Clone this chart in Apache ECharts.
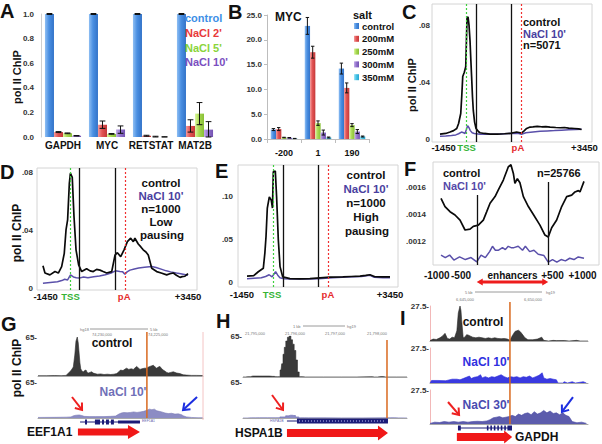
<!DOCTYPE html>
<html><head><meta charset="utf-8">
<script src="https://cdn.jsdelivr.net/npm/echarts@6/dist/echarts.min.js"></script>
<style>html,body{margin:0;padding:0;background:#fff;}#chart{width:602px;height:444px;}</style>
</head><body><div id="chart"></div>
<script>
// ================= DATA =================
// Panel A
const aCategories = ['GAPDH', 'MYC', 'RETSTAT', 'MAT2B'];
const aNames = ['control', "NaCl 2'", "NaCl 5'", "NaCl 10'"];
const aControl = [1.0, 1.0, 1.0, 1.0];
const aNaCl2 = [0.04, 0.10, 0.01, 0.09];
const aNaCl5 = [0.03, 0.025, 0.0, 0.19];
const aNaCl10 = [0.01, 0.06, 0.0, 0.06];
const aControlErr = [0.004, 0.004, 0.004, 0.004];
const aNaCl2Err = [0.004, 0.03, 0.004, 0.05];
const aNaCl5Err = [0.003, 0.003, 0.006, 0.09];
const aNaCl10Err = [0.002, 0.03, 0.002, 0.065];

// Panel B
const bCategories = ['-200', '1', '190'];
const bNames = ['control', '200mM', '250mM', '300mM', '350mM'];
const bControl = [1.9, 22.8, 14.2];
const b200 = [2.0, 17.5, 10.3];
const b250 = [0.3, 3.2, 2.8];
const b300 = [0.25, 1.3, 1.5];
const b350 = [0.1, 0.3, 0.5];
const bControlErr = [0.2, 1.7, 1.1];
const b200Err = [0.3, 1.2, 1.0];
const b250Err = [0.05, 0.45, 0.3];
const b300Err = [0.05, 0.5, 0.4];
const b350Err = [0.02, 0.1, 0.1];

// Metagene panels (x in metagene bins 0..100)
const metaTickLabels = ['-1450', 'TSS', 'pA', '+3450'];
const cTickValues = [2.5, 18.6, 54.5, 101];
const dTickValues = [1.8, 19, 56, 100];
const eTickValues = [-3.5, 17.5, 56.6, 100];
const metaTSS = 18.5, metaGeneBounds = [25, 50], metaPA = 56.5;

const cControl = [[0,.0035],[4,.004],[7,.005],[9.5,.006],[11.7,.0075],[13,.011],[14.5,.018],[15.2,.03],[15.9,.044],[17,.047],[18,.051],[18.5,.07],[18.9,.085],[19.6,.086],[20.3,.08],[21,.069],[21.6,.055],[22.1,.044],[22.7,.03],[23.3,.020],[24.2,.012],[25.2,.0075],[27,.0052],[28,.0045],[31,.004],[35,.0035],[40,.0036],[45,.0038],[49,.004],[51,.0045],[53.6,.005],[56,.0045],[57,.0042],[59,.006],[60.6,.0075],[63,.0085],[65,.0086],[68,.009],[71,.0087],[74,.0088],[77,.0085],[81,.0082],[84,.008],[87,.0082],[90,.0078],[94,.0075],[97,.0072],[99,.0068]];
const cNaCl = [[0,.002],[4,.0022],[8,.0026],[11,.003],[13,.0038],[15,.005],[16.5,.0045],[17.5,.004],[18.5,.007],[19.3,.0095],[20.3,.008],[21.2,.006],[22.5,.0045],[24,.004],[28,.0035],[35,.0035],[42,.0036],[48,.004],[52,.0042],[55,.004],[57,.0035],[60,.0045],[65,.005],[70,.0055],[75,.0058],[80,.006],[85,.0063],[90,.0066],[95,.0068],[99,.007]];

const dControl = [[0,.016],[1.4,.011],[4.8,.0097],[8.3,.012],[10.6,.011],[12.9,.0154],[14.7,.0246],[15.9,.0407],[17,.0476],[18.2,.0729],[18.9,.0798],[20.2,.077],[21.4,.05],[22.8,.027],[24.6,.0166],[26.7,.012],[30.1,.014],[32.5,.0125],[34.7,.012],[37,.0135],[39.3,.013],[41.5,.012],[43.9,.011],[47.4,.012],[49.7,.0234],[51.3,.025],[53.6,.0223],[55.9,.027],[58.2,.0326],[60.5,.035],[62.3,.0326],[63.4,.035],[65.7,.031],[67.5,.029],[69.1,.027],[71,.0255],[72.6,.0234],[75,.0143],[78.4,.012],[81.5,.011],[85.3,.0097],[87.5,.0105],[89.9,.011],[92,.0095],[94.5,.008],[96,.0085],[97.9,.0088],[100,.0106]];
const dNaCl = [[0,.004],[5,.0045],[10,.005],[13,.0058],[15,.0067],[17,.0062],[19,.0097],[21,.0083],[23,.0078],[25,.0075],[28,.0083],[31,.0078],[35,.0085],[39,.009],[43,.0098],[47,.011],[50,.0125],[53,.012],[55,.0118],[56.5,.0102],[58,.0118],[60,.013],[63,.0138],[66,.0145],[70,.015],[75,.0155],[78,.0148],[82,.0135],[85,.0125],[88,.0118],[92,.011],[95,.0105],[100,.0095]];

const eControl = [[0,.008],[4.7,.0085],[7.9,.013],[11.4,.017],[12.5,.035],[13.3,.054],[14.2,.087],[15.6,.1],[17,.096],[17.8,.087],[18.4,.129],[19.8,.13],[20.7,.1],[21.3,.075],[21.9,.05],[23.1,.019],[25,.007],[30,.005],[37,.0048],[44,.005],[51,.006],[58,.0068],[67,.007],[73,.0075],[79,.008],[83,.0088],[86,.0095],[89.5,.0072],[94,.007],[100,.007]];
const eNaCl = [[0,.005],[5,.0055],[10,.006],[13,.0075],[15.5,.0095],[17.5,.007],[20,.013],[21.5,.009],[23,.006],[26,.005],[30,.0045],[40,.0045],[50,.005],[60,.006],[70,.0068],[80,.0075],[86,.009],[89,.0065],[95,.006],[100,.006]];

// Panel F (enhancers, bins 0..100, enhancer spans 25..75)
const fTickValues = [-3, 14, 50, 78, 99];
const fTickLabels = ['-1000', '-500', 'enhancers', '+500', '+1000'];
const fEnhancer = [25, 75];
const fEnhancerLineTops = [0.001547, 0.001645];
const fControl = [[0,.001522],[2.8,.001459],[6.3,.001421],[9.8,.001396],[13.3,.001358],[16.8,.001283],[20.3,.00129],[22.6,.00131],[26.1,.00132],[29.6,.001358],[31.9,.00142],[34.3,.001485],[37.8,.001535],[40.1,.001585],[43.6,.00166],[47.1,.00176],[48.9,.001775],[50.6,.00171],[51.7,.001635],[53.4,.00167],[55.2,.00164],[57.6,.001535],[61.1,.00146],[64.6,.0014],[69.2,.00132],[72.7,.001245],[75,.00123],[77.4,.0013],[80.9,.001358],[84.4,.00146],[87.9,.001535],[91.4,.001546],[93.7,.00157],[96.1,.00158],[97.2,.00157],[100,.00165]];
const fNaCl = [[0,.001094],[3,.001075],[6,.001094],[9,.001056],[13,.00108],[17,.00106],[21,.001075],[25,.001043],[28,.001094],[31,.001075],[34,.00112],[36,.00116],[38,.00113],[40,.00113],[43,.00115],[45,.001135],[47,.00116],[49,.00115],[51,.00115],[54,.00116],[57,.00113],[59,.00116],[62,.00112],[65,.00113],[68,.0011],[72,.00109],[75,.00104],[78,.00106],[81,.00104],[84,.00106],[87,.00105],[90,.00107],[93,.00106],[96,.00108],[100,.00107]];

// Genome browser tracks (x in track bins 0..100)
const gControl = [[0,0.5],[5,0.5],[10,0.8],[14,0.6],[17,1],[18.5,5],[20,9],[21.4,15],[22.3,35],[23,58],[23.8,65],[24.4,55],[24.8,42],[25.4,22],[25.9,12],[26.7,8],[27.5,7],[28.3,9],[29.1,10],[29.8,6],[30.5,5],[31.5,6],[32.5,7],[33.5,5],[34.5,4],[36,3],[38,3.5],[40,2.5],[42,3],[44,2.5],[46,3],[47.7,4],[49,7],[50,10],[51.5,9],[53,12],[53.7,13],[55,11],[56.5,12],[57.8,11],[59,14],[59.8,16],[61,13],[61.8,11],[63,12],[64.5,13],[65.9,13],[67,15],[67.9,16],[69,17],[69.9,18],[71,15],[71.9,13],[73,15],[73.9,16],[75,12],[75.9,10],[77,8],[78,6],[79,5],[80.5,6],[82,7],[84,5],[86,4],[88,2],[90,1.5],[93,1],[96,1],[100,0.8]];
const gNaCl10 = [[0,1],[10,1.2],[17,1.5],[20,2],[21.5,4],[23,5],[25,5.5],[26.5,4.5],[28,3],[31,2.5],[35,2.5],[40,2.5],[44,3],[47,3.5],[49,7],[50.5,9],[52,10],[54,9.5],[56,10],[58,11],[60,10],[62,11],[64,12],[66,14],[67.5,16],[69,15],[70.5,16],[72,13],[73.5,12],[75,11],[77,9],[79,8],[81,8.5],[83,7],[85,7.5],[87,6],[88,4],[90,2],[93,1],[97,0.5],[100,0.5]];
const gGeneIntron = [[25.5, 61.8]];
const gGeneExons = [[28.5,29.7,1],[34.5,37.6,1],[38.8,40,1],[41.2,43,1],[44.2,46,1],[48.5,61.8,0.6]];
const gGeneArrow = [[24.2, 61.8]];
const gMarker = 66;
const gArrowsRed = [[20.6, 37.9, 26.7, 14.4]];
const gArrowsBlue = [[96.4, 37.9, 87.9, 14.4]];

const hControl = [[0,0],[3,0.5],[6,1.5],[10,1.5],[14,1.5],[18,1],[20,0.5],[22,0.5],[23.2,11],[24,21],[24.8,36],[25.6,47],[26.6,57],[27.6,63],[28.7,65],[29.7,59],[30.7,52],[31.7,42],[32.7,27],[33.7,8],[34.8,0.5],[38,0],[60,0],[78,0.5],[80,0],[84,0.6],[87,0],[100,0]];
const hNaCl10 = [[0,0],[5,0.3],[10,0.5],[20,0.5],[25,2],[27,4],[29,5],[31,4.5],[33,2],[35,0.5],[40,0.3],[60,0.2],[85,0.3],[90,0.5],[95,0.2],[100,0]];
const hGeneIntron = [[26.8, 32.9]];
const hGeneExons = [[32.9, 88.4, 1]];
const hGeneArrow = [[26.8, 88.4]];
const hMarker = 87.8;
const hArrowsRed = [[17.7, 41.5, 24.4, 14.4]];

const iControl = [[0,0.3],[2,1.5],[4,1.2],[6.3,2.5],[8,4],[9.5,6],[11,2],[12.5,1.5],[14,3],[15.5,2.5],[17,8],[17.9,22],[19,27.5],[19.6,24],[20,17],[21,2.5],[22,3],[23.2,5],[24.5,4.5],[25.3,4],[27,3],[29,2.5],[31,3],[33,2.5],[35,2],[37,2.5],[39,2],[41,2.5],[43,2],[45,1.8],[47,2],[49,1.5],[50.6,0.5],[52,4],[53.8,7.5],[55.9,8.5],[57,7.5],[58,6],[60.1,2.5],[62,1],[65,1],[68,1.5],[70.7,3],[72,0.5],[75,0],[78,0.5],[80,0.3],[85,0.4],[88,0],[92.8,0.5],[95,0],[100,0]];
const iNaCl10 = [[0,0],[1,2],[5,2],[10,1.8],[14,3],[17,3],[19,2.5],[21,3.5],[23,4.5],[25,5.5],[26,3.5],[28,4.5],[30,5],[32,6.5],[33,4],[35,5],[37,4],[39,5],[41,4.5],[43,5.5],[45,6.5],[47,5],[49,4],[51,5],[53,4.5],[55,5],[57,4],[59,5],[61,4.5],[63,5.5],[65,4],[67,5],[69,6],[71,8],[72,4],[74,3],[76,3.5],[78,3],[80,2.5],[81,0],[84,0],[85,1],[87,0],[90,1],[92,0],[97,1],[99,0]];
const iNaCl30 = [[0,0.5],[3,1.5],[6,1.2],[9,2],[12,1.5],[15,2],[18,1.5],[21,2],[24,1.5],[27,2],[30,2.2],[33,2],[36,2.5],[38,3.5],[40,5],[42,5.5],[44,6],[46,5],[48,5.5],[50,6],[52,7],[54,6],[56,8],[58,7],[60,8.5],[62,9],[64,7.5],[66,10],[68,8],[70,9],[72,11],[74,9],[76,10.5],[78,8.5],[80,9],[82,7.5],[84,9],[86,7],[88,6],[89,4],[90,2],[93,1],[96,1.5],[99,0.5]];
const iGeneIntron = [[17.7, 51.9]];
const iGeneExons = [[17.7,19.5,1],[36,37,1],[38.2,39.2,1],[40.4,41.4,1],[42.6,43.6,1],[44.8,45.8,1],[47,48,1],[49,51.9,1]];
const iGeneArrow = [[17, 52]];
const iMarker = 50.6;
const iArrowsRed = [[11.4, 17.8, 18.4, 7.3]];
const iArrowsBlue = [[90.5, 21.8, 83.5, 9.7]];

// ================= BUILD =================
const FONT = '"Liberation Sans", Arial, sans-serif';
const grids = [], xAxes = [], yAxes = [], series = [];
function addGrid(g, xa, ya) {
  const i = grids.length;
  grids.push(Object.assign({ containLabel: false }, g));
  xAxes.push(Object.assign({ gridIndex: i }, xa));
  yAxes.push(Object.assign({ gridIndex: i }, ya));
  return i;
}
function grad(c) {
  return { type: 'linear', x: 0, y: 0, x2: 1, y2: 0, colorStops: [{ offset: 0, color: c[0] }, { offset: 0.45, color: c[1] }, { offset: 1, color: c[2] }] };
}
const BLUE = ['#8fbff3', '#4a8fe2', '#3373c8'];
const RED = ['#f59a9a', '#e25454', '#c53838'];
const GREEN = ['#dcf7a0', '#a8d852', '#88c036'];
const PURPLE = ['#c4ace9', '#9272cc', '#7352b2'];
const CYAN = ['#a0e6f7', '#46c4e8', '#27a5cf'];

function errorBars(gi, vals, errs, idx, n, gapFrac) {
  return {
    type: 'custom', xAxisIndex: gi, yAxisIndex: gi, silent: true, z: 5,
    data: vals.map((v, k) => [k, v, errs[k]]),
    renderItem(params, api) {
      const k = api.value(0), v = api.value(1), e = api.value(2);
      const band = api.size([1, 0])[0];
      const group = band * (1 - gapFrac), bw = group / n;
      const cx = api.coord([k, v])[0] - group / 2 + bw * (idx + 0.5);
      const yT = api.coord([k, v + e])[1], yB = api.coord([k, Math.max(0, v - e)])[1];
      const cap = bw * 0.32;
      const st = { stroke: '#111', lineWidth: 1 };
      return { type: 'group', children: [
        { type: 'line', shape: { x1: cx, y1: yT, x2: cx, y2: yB }, style: st },
        { type: 'line', shape: { x1: cx - cap, y1: yT, x2: cx + cap, y2: yT }, style: st },
        { type: 'line', shape: { x1: cx - cap, y1: yB, x2: cx + cap, y2: yB }, style: st }
      ] };
    }
  };
}

// ---- Panel A
const gapA = 0.18;
const gA = addGrid({ left: 41, top: 14, width: 176, height: 123 },
  { type: 'category', data: aCategories, axisLine: { show: false }, axisTick: { show: false },
    axisLabel: { interval: 0, fontSize: 10, fontWeight: 'bold', color: '#111', margin: 3, fontFamily: FONT } },
  { type: 'value', min: 0, max: 1, interval: 0.2, axisLine: { show: true, lineStyle: { color: '#cfcfcf' } }, axisTick: { show: false }, splitLine: { show: false },
    axisLabel: { formatter: v => v.toFixed(1), fontSize: 8, fontWeight: 'bold', color: '#333', margin: 7, fontFamily: FONT } });
[[aControl, BLUE, aControlErr], [aNaCl2, RED, aNaCl2Err], [aNaCl5, GREEN, aNaCl5Err], [aNaCl10, PURPLE, aNaCl10Err]].forEach((s, i) => {
  series.push({ type: 'bar', name: 'A ' + aNames[i], xAxisIndex: gA, yAxisIndex: gA, data: s[0], barGap: '0%', barCategoryGap: (gapA * 100) + '%', itemStyle: { color: grad(s[1]) }, silent: true });
  series.push(errorBars(gA, s[0], s[2], i, 4, gapA));
});

// ---- Panel B
const gapB = 0.22;
const gB = addGrid({ left: 267, top: 15, width: 102, height: 124 },
  { type: 'category', data: bCategories, axisLine: { show: true, lineStyle: { color: '#bdbdbd' } }, axisTick: { show: true, length: 4, lineStyle: { color: '#bdbdbd' } },
    axisLabel: { interval: 0, fontSize: 9, fontWeight: 'bold', color: '#111', margin: 9, fontFamily: FONT } },
  { type: 'value', min: 0, max: 25, interval: 5, axisLine: { show: true, lineStyle: { color: '#bdbdbd' } }, axisTick: { show: true, length: 3, lineStyle: { color: '#bdbdbd' } }, splitLine: { show: false },
    axisLabel: { formatter: v => v.toFixed(1), fontSize: 8, fontWeight: 'bold', color: '#333', margin: 5, fontFamily: FONT } });
[[bControl, BLUE, bControlErr], [b200, RED, b200Err], [b250, GREEN, b250Err], [b300, PURPLE, b300Err], [b350, CYAN, b350Err]].forEach((s, i) => {
  series.push({ type: 'bar', name: 'B ' + bNames[i], xAxisIndex: gB, yAxisIndex: gB, data: s[0], barGap: '0%', barCategoryGap: (gapB * 100) + '%', itemStyle: { color: grad(s[1]) }, silent: true });
  series.push(errorBars(gB, s[0], s[2], i, 5, gapB));
});

// ---- Metagene panels
const RICH = {
  k: { fontSize: 9.5, fontWeight: 'bold', color: '#111', fontFamily: FONT },
  g: { fontSize: 9.5, fontWeight: 'bold', color: '#35b335', fontFamily: FONT },
  r: { fontSize: 9.5, fontWeight: 'bold', color: '#e52c2c', fontFamily: FONT }
};
const metaStyles = ['k', 'g', 'r', 'k'];
function metaX(min, max, margin, ticks) {
  return { type: 'value', min, max, axisLine: { show: false, onZero: false }, axisTick: { show: false }, splitLine: { show: false },
    axisLabel: { customValues: ticks, margin, rich: RICH, showMinLabel: true, showMaxLabel: true, hideOverlap: false,
      formatter: v => { const i = ticks.findIndex(t => Math.abs(t - v) < 1e-6); return i < 0 ? '' : '{' + metaStyles[i] + '|' + metaTickLabels[i] + '}'; } } };
}
function metaY(min, max, ticks, digits, margin) {
  return { type: 'value', min, max, axisLine: { show: false }, axisTick: { show: false }, splitLine: { show: false },
    axisLabel: { customValues: ticks, margin, fontSize: 8, fontWeight: 'bold', color: '#333', fontFamily: FONT, showMinLabel: true, showMaxLabel: true,
      formatter: v => Math.abs(v) < 1e-12 ? '0' : v.toFixed(digits).replace(/^0/, '') } };
}
const FRAME = { show: true, borderColor: '#d4d4d4', borderWidth: 1, backgroundColor: 'transparent' };
function metaLines() {
  return { silent: true, symbol: ['none', 'none'], label: { show: false }, animation: false,
    data: [
      { xAxis: metaTSS, lineStyle: { color: '#3fd03f', type: [2, 2], width: 1.2 } },
      { xAxis: metaGeneBounds[0], lineStyle: { color: '#111', type: 'solid', width: 1.3 } },
      { xAxis: metaGeneBounds[1], lineStyle: { color: '#111', type: 'solid', width: 1.3 } },
      { xAxis: metaPA, lineStyle: { color: '#f03030', type: [2, 2], width: 1.2 } }
    ] };
}
const CTRL_LINE = { color: '#0a0a0a', width: 1.7 };
const NACL_LINE = { color: '#5a50aa', width: 1.5 };
function metaPanel(grid, xmin, xmax, xMargin, xTicks, ymin, ymax, yTicks, yDigits, yMargin, ctrl, nacl) {
  const gi = addGrid(Object.assign({}, FRAME, grid), metaX(xmin, xmax, xMargin, xTicks), metaY(ymin, ymax, yTicks, yDigits, yMargin));
  series.push({ type: 'line', xAxisIndex: gi, yAxisIndex: gi, data: nacl, symbol: 'none', lineStyle: NACL_LINE, silent: true, z: 3 });
  series.push({ type: 'line', xAxisIndex: gi, yAxisIndex: gi, data: ctrl, symbol: 'none', lineStyle: CTRL_LINE, silent: true, z: 4, markLine: metaLines() });
  return gi;
}
metaPanel({ left: 432, top: 4, width: 160, height: 138 }, -5.6, 106.3, 0, cTickValues, -0.002, 0.095, [0, 0.04, 0.08], 2, 2, cControl, cNaCl);
metaPanel({ left: 37, top: 168, width: 160, height: 122 }, -4.1, 106.2, 1, dTickValues, -0.0007, 0.0834, [0, 0.04, 0.08], 2, 4, dControl, dNaCl);
metaPanel({ left: 238, top: 165, width: 160, height: 122 }, -6.3, 105.6, 2, eTickValues, -0.0047, 0.137, [0, 0.05, 0.10], 2, 5, eControl, eNaCl);

// ---- Panel F
const fMin = 0.001019, fMax = 0.001796;
const gF = addGrid(Object.assign({}, FRAME, { left: 433, top: 162, width: 166, height: 103 }),
  { type: 'value', min: -5.6, max: 110.5, axisLine: { show: false, onZero: false }, axisTick: { show: false }, splitLine: { show: false },
    axisLabel: { customValues: fTickValues, margin: 5, fontSize: 10, fontWeight: 'bold', color: '#111', fontFamily: FONT, showMinLabel: true, showMaxLabel: true, hideOverlap: false,
      formatter: v => { const i = fTickValues.findIndex(t => Math.abs(t - v) < 1e-6); return i < 0 ? '' : fTickLabels[i]; } } },
  metaY(fMin, fMax, [0.0012, 0.0014, 0.0016], 4, 7));
series.push({ type: 'line', xAxisIndex: gF, yAxisIndex: gF, data: fNaCl, symbol: 'none', lineStyle: NACL_LINE, silent: true, z: 3 });
series.push({ type: 'line', xAxisIndex: gF, yAxisIndex: gF, data: fControl, symbol: 'none', lineStyle: CTRL_LINE, silent: true, z: 4,
  markLine: { silent: true, symbol: ['none', 'none'], label: { show: false }, animation: false, lineStyle: { color: '#111', type: 'solid', width: 1.3 },
    data: fEnhancer.map((x, i) => [{ coord: [x, fEnhancerLineTops[i]] }, { coord: [x, fMin] }]) } });
series.push({ type: 'custom', xAxisIndex: gF, yAxisIndex: gF, silent: true, z: 6, data: [[fEnhancer[0], fMin, fEnhancer[1]]],
  renderItem(params, api) {
    const a = api.coord([api.value(0), fMin])[0], b = api.coord([api.value(2), fMin])[0];
    const y = params.coordSys.y + params.coordSys.height + 17;
    const c = '#ee1c1c', h = 3.5, L = 6;
    return { type: 'group', children: [
      { type: 'line', shape: { x1: a + 3, y1: y, x2: b - 3, y2: y }, style: { stroke: c, lineWidth: 3 } },
      { type: 'polygon', shape: { points: [[a, y], [a + L, y - h], [a + L, y + h]] }, style: { fill: c } },
      { type: 'polygon', shape: { points: [[b, y], [b - L, y - h], [b - L, y + h]] }, style: { fill: c } }
    ] };
  } });

// ---- Genome browser tracks
function trackAxes(max, labelText, leftLine) {
  return [
    { type: 'value', min: 0, max: 100, axisLine: { show: true, onZero: false, lineStyle: { color: '#a8a8a8', width: 1 } }, axisTick: { show: false }, axisLabel: { show: false }, splitLine: { show: false } },
    { type: 'value', min: 0, max, axisLine: { show: !!leftLine, lineStyle: { color: '#f2b8b8' } }, axisTick: { show: false }, splitLine: { show: false },
      axisLabel: { customValues: [max], showMaxLabel: true, formatter: () => labelText, fontSize: 8, fontWeight: 'bold', color: '#333', margin: 1, fontFamily: FONT } }
  ];
}
function addTrack(grid, max, label, data, line, fill, step, leftLine) {
  const ax = trackAxes(max, label, leftLine);
  const gi = addGrid(grid, ax[0], ax[1]);
  series.push({ type: 'line', xAxisIndex: gi, yAxisIndex: gi, data, symbol: 'none', step: step || false, silent: true,
    lineStyle: { color: line, width: 0.6 }, areaStyle: { color: fill, opacity: 1 } });
  return gi;
}
function geneGrid(grid) {
  return addGrid(grid, { type: 'value', min: 0, max: 100, show: false }, { type: 'value', min: 0, max: 1, show: false });
}
function arrowRender(color) {
  return (params, api) => {
    const p1 = api.coord([api.value(0), api.value(1)]);
    const p2 = api.coord([api.value(2), api.value(3)]);
    const dx = p2[0] - p1[0], dy = p2[1] - p1[1], L = Math.hypot(dx, dy), ux = dx / L, uy = dy / L;
    const hl = 6, hw = 4.5;
    const bx = p2[0] - ux * hl, by = p2[1] - uy * hl;
    return { type: 'group', children: [
      { type: 'line', shape: { x1: p1[0], y1: p1[1], x2: p2[0] - ux, y2: p2[1] - uy }, style: { stroke: color, lineWidth: 2 } },
      { type: 'polyline', shape: { points: [[bx - uy * hw, by + ux * hw], [p2[0], p2[1]], [bx + uy * hw, by - ux * hw]] }, style: { stroke: color, lineWidth: 2, fill: null } }
    ] };
  };
}
function addArrows(gi, data, color) {
  series.push({ type: 'custom', xAxisIndex: gi, yAxisIndex: gi, silent: true, z: 8, data, renderItem: arrowRender(color) });
}
function addMarker(gi, x, spanUp) {
  series.push({ type: 'custom', xAxisIndex: gi, yAxisIndex: gi, silent: true, z: 7, data: [[x, 0]],
    renderItem(params, api) {
      const p = api.coord([api.value(0), 0]);
      return { type: 'line', shape: { x1: p[0], y1: p[1], x2: p[0], y2: p[1] - spanUp }, style: { stroke: '#d9691f', lineWidth: 1.5 } };
    } });
}
function addGene(gi, intron, exons, arrow, modelY, arrowY, arrowDims, boxDash) {
  const navy = '#1b1b78';
  series.push({ type: 'custom', xAxisIndex: gi, yAxisIndex: gi, silent: true, data: intron,
    renderItem(params, api) {
      const a = api.coord([api.value(0), 0])[0], b = api.coord([api.value(1), 0])[0], y = params.coordSys.y + modelY;
      return { type: 'line', shape: { x1: a, y1: y, x2: b, y2: y }, style: { stroke: navy, lineWidth: 1 } };
    } });
  series.push({ type: 'custom', xAxisIndex: gi, yAxisIndex: gi, silent: true, data: exons,
    renderItem(params, api) {
      const a = api.coord([api.value(0), 0])[0], b = api.coord([api.value(1), 0])[0], y = params.coordSys.y + modelY;
      const h = 5 * api.value(2);
      const kids = [{ type: 'rect', shape: { x: a, y: y - h / 2, width: Math.max(1, b - a), height: h }, style: { fill: navy } }];
      if (boxDash) kids.push({ type: 'line', shape: { x1: a + 2, y1: y, x2: b - 2, y2: y }, style: { stroke: '#c8c8ff', lineWidth: 1, lineDash: [1, 2] } });
      return { type: 'group', children: kids };
    } });
  series.push({ type: 'custom', xAxisIndex: gi, yAxisIndex: gi, silent: true, data: arrow,
    renderItem(params, api) {
      const a = api.coord([api.value(0), 0])[0], b = api.coord([api.value(1), 0])[0], y = params.coordSys.y + arrowY;
      const h = arrowDims[0] / 2, H = arrowDims[1] / 2, L = arrowDims[2];
      return { type: 'polygon', shape: { points: [[a, y - h], [b - L, y - h], [b - L, y - H], [b, y], [b - L, y + H], [b - L, y + h], [a, y + h]] }, style: { fill: '#f01818' } };
    } });
}

// G
addTrack({ left: 38, top: 337, width: 165, height: 39 }, 65, '65-', gControl, '#2e2e2e', '#3a3a3a');
const gG2 = addTrack({ left: 38, top: 382, width: 165, height: 36 }, 65, '65-', gNaCl10, '#7c7cb6', '#8c8cc4');
addMarker(gG2, gMarker, 86);
addArrows(gG2, gArrowsRed, '#ee2020');
addArrows(gG2, gArrowsBlue, '#1c2ee0');
const gG3 = geneGrid({ left: 38, top: 416, width: 165, height: 24 });
addGene(gG3, gGeneIntron, gGeneExons, gGeneArrow, 6, 16, [7, 14, 12], false);

// H
addTrack({ left: 243, top: 336, width: 164, height: 41 }, 65, '65-', hControl, '#2a2a2a', '#3a3a3a', 'middle');
const gH2 = addTrack({ left: 243, top: 382, width: 164, height: 36 }, 65, '65-', hNaCl10, '#6a6ab0', '#8a8ac6', 'middle');
addMarker(gH2, hMarker, 78);
addArrows(gH2, hArrowsRed, '#ee2020');
const gH3 = geneGrid({ left: 243, top: 416, width: 164, height: 24 });
addGene(gH3, hGeneIntron, hGeneExons, hGeneArrow, 5, 17, [8, 15, 10], true);

// I
addTrack({ left: 430, top: 306, width: 158, height: 35 }, 27.5, '27.5-', iControl, '#2a2a2a', '#3a3a3a', false, true);
addTrack({ left: 430, top: 348, width: 158, height: 35 }, 27.5, '27.5-', iNaCl10, '#2828d8', '#3a3ae0', false, true);
const gI3 = addTrack({ left: 430, top: 390, width: 158, height: 34 }, 27.5, '27.5-', iNaCl30, '#4c4ca4', '#5c5cac', false, true);
addMarker(gI3, iMarker, 122);
addArrows(gI3, iArrowsRed, '#ee2020');
addArrows(gI3, iArrowsBlue, '#1c2ee0');
const gI4 = geneGrid({ left: 430, top: 424, width: 158, height: 20 });
addGene(gI4, iGeneIntron, iGeneExons, iGeneArrow, 4, 13, [8, 13, 8], false);

// ================= TEXT =================
function T(text, x, y, o) {
  o = o || {};
  return { type: 'text', x, y, rotation: o.rot || 0, silent: true, z: 20,
    style: { text, fill: o.color || '#111', fontSize: o.size || 11, fontWeight: o.weight || 'bold', fontFamily: FONT,
      align: o.align || 'left', verticalAlign: 'middle' } };
}
function L(x1, y1, x2, y2, color) {
  return { type: 'line', silent: true, z: 20, shape: { x1, y1, x2, y2 }, style: { stroke: color || '#9a9a9a', lineWidth: 1 } };
}
const tiny = { size: 4, weight: 'normal', color: '#777' };
const tinyC = { size: 4, weight: 'normal', color: '#777', align: 'center' };
const graphics = [
  // panel letters
  T('A', 0, 11, { size: 20 }), T('B', 228, 12, { size: 20 }), T('C', 402, 12, { size: 20 }),
  T('D', 0, 172, { size: 20 }), T('E', 215, 171, { size: 20 }), T('F', 404, 169, { size: 20 }),
  T('G', 1, 324, { size: 20 }), T('H', 216, 321, { size: 20 }), T('I', 400, 318, { size: 20 }),
  // y axis names
  T('pol II ChIP', 17, 77, { rot: Math.PI / 2, align: 'center', size: 11 }),
  T('pol II ChIP', 412, 85, { rot: Math.PI / 2, align: 'center', size: 11 }),
  T('pol II ChIP', 17, 233, { rot: Math.PI / 2, align: 'center', size: 12 }),
  T('pol II ChIP', 17, 368, { rot: Math.PI / 2, align: 'center', size: 12 }),
  // A legend
  T('control', 185, 18, { color: '#3d8fe6', size: 11 }),
  T("NaCl 2'", 185, 33, { color: '#e83a3a', size: 11 }),
  T("NaCl 5'", 185, 48, { color: '#8ad43a', size: 11 }),
  T("NaCl 10'", 185, 62, { color: '#7b4fc0', size: 11 }),
  // B
  T('MYC', 275, 17, { size: 12 }), T('salt', 353, 15, { size: 11 }),
  // C
  T('control', 523, 22, { size: 11 }), T("NaCl 10'", 523, 33.5, { size: 11, color: '#4a3fa0' }), T('n=5071', 523, 45, { size: 11 }),
  // D
  T('control', 161, 183, { align: 'center', size: 11.5 }), T("NaCl 10'", 161, 196, { align: 'center', size: 11.5, color: '#4a3fa0' }),
  T('n=1000', 161, 208.5, { align: 'center', size: 11.5 }), T('Low', 161, 222, { align: 'center', size: 11.5 }), T('pausing', 162, 235, { align: 'center', size: 11.5 }),
  // E
  T('control', 366, 175, { align: 'center', size: 11.5 }), T("NaCl 10'", 366, 189, { align: 'center', size: 11.5, color: '#4a3fa0' }),
  T('n=1000', 366, 203, { align: 'center', size: 11.5 }), T('High', 366, 217, { align: 'center', size: 11.5 }), T('pausing', 367, 230.5, { align: 'center', size: 11.5 }),
  // F
  T('control', 443, 172.5, { size: 11 }), T("NaCl 10'", 443, 185.5, { size: 11, color: '#5548a8' }), T('n=25766', 537, 172.5, { size: 11 }),
  // G
  T('control', 112, 343, { align: 'center', size: 12 }), T("NaCl 10'", 123, 392, { align: 'center', size: 12, color: '#7070b8' }),
  T('EEF1A1', 27, 432, { size: 12 }),
  T('hg18', 80, 329, tiny), L(90, 329, 148, 329), T('5 kb', 150, 329, tiny),
  T('74,230,000', 92, 334, tiny), T('74,225,000', 148, 334, tiny),
  T('EEF1A1', 142, 421, { size: 3.5, weight: 'normal', color: '#6a6ab0' }),
  L(203, 332, 203, 420, '#f4c4c4'),
  // H
  T('HSPA1B', 235, 433, { size: 12 }),
  T('1 kb', 293, 326, tiny), L(303, 326, 345, 326), T('hg19', 347, 326, tiny),
  T('21,795,000', 255, 333, tinyC), T('21,796,000', 295, 333, tinyC),
  T('21,797,000', 335, 333, tinyC), T('21,798,000', 377, 333, tinyC),
  T('HSPA1B', 270, 421, { size: 3.5, weight: 'normal', color: '#6a6ab0' }),
  // I
  T('control', 483, 322, { align: 'center', size: 12 }), T("NaCl 10'", 486, 362, { align: 'center', size: 12, color: '#3030e0' }),
  T("NaCl 30'", 486, 405, { align: 'center', size: 12, color: '#4a4ab0' }),
  T('GAPDH', 515, 437, { size: 12 }),
  T('5 kb', 465, 292, tiny), L(475, 292, 542, 292), T('hg19', 546, 292, tiny),
  T('6,645,000', 465, 299, tinyC), T('6,650,000', 533, 299, tinyC)
];
// B legend (swatches + labels)
const bSwatch = [BLUE, RED, GREEN, PURPLE, CYAN];
bNames.forEach((n, i) => {
  const y = 26 + i * 12.8;
  graphics.push({ type: 'rect', silent: true, z: 20, shape: { x: 354, y: y - 3, width: 5, height: 6 }, style: { fill: grad(bSwatch[i]) } });
  graphics.push(T(n, 362, y, { size: 9.5 }));
});

const chart = echarts.init(document.getElementById('chart'), null, { renderer: 'svg' });
chart.setOption({
  animation: false,
  backgroundColor: '#fff',
  grid: grids, xAxis: xAxes, yAxis: yAxes, series,
  graphic: graphics
});
</script></body></html>
